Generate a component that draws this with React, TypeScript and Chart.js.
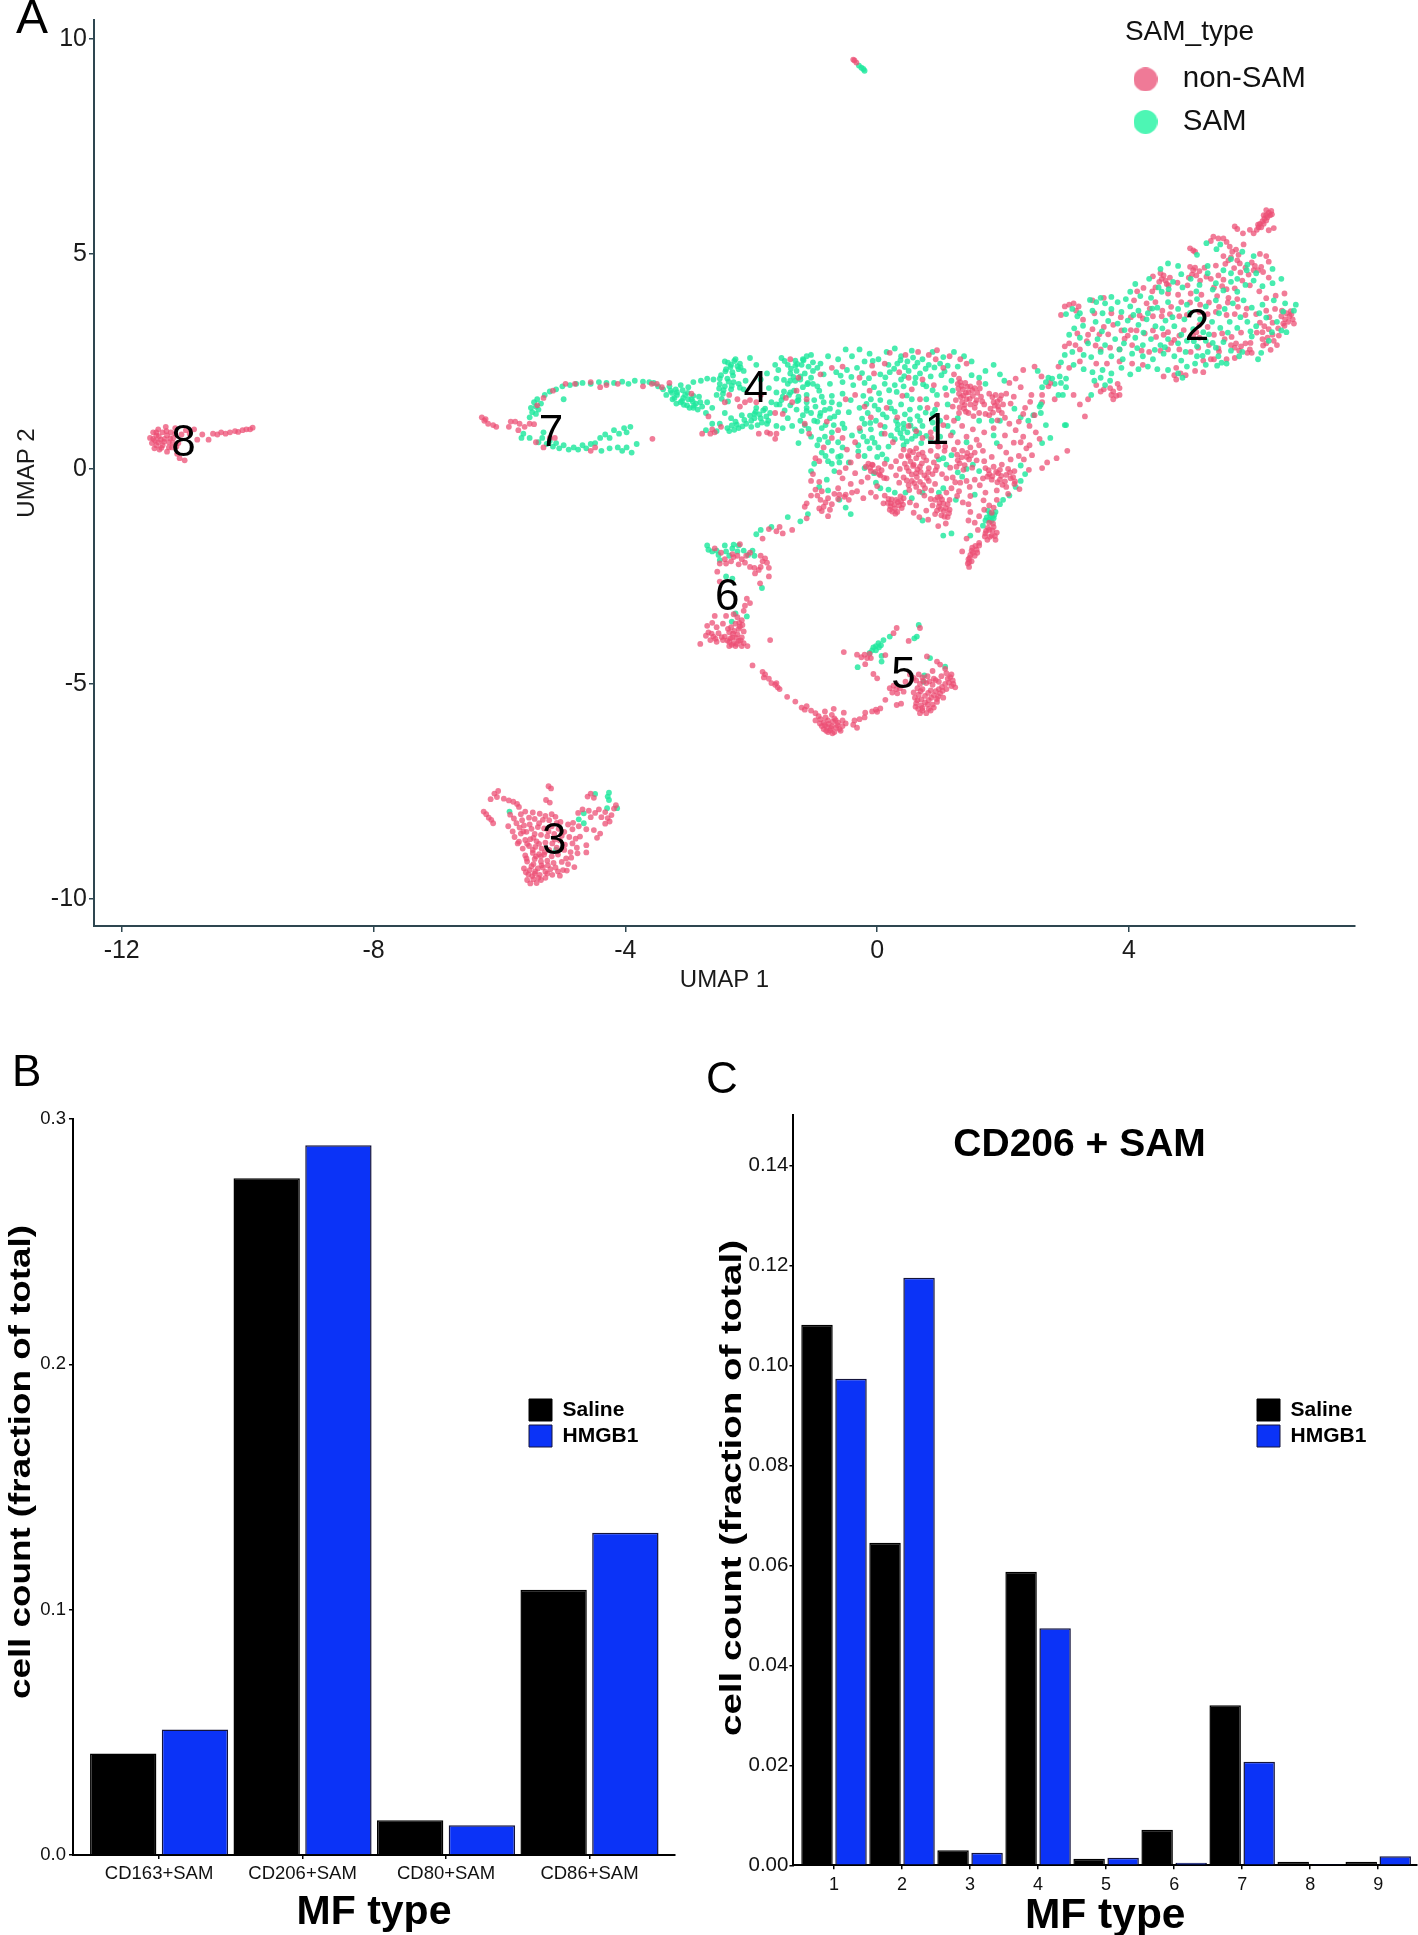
import React, { useEffect, useRef } from "react";
import { Chart, registerables } from "chart.js";
Chart.register(...registerables);

const FONT = "'Liberation Sans', Arial, sans-serif";

// Panel A: UMAP coordinates, as x,y pairs per cluster
const nonSamCluster1 = [
0.65,2.72,0.82,2.65,0.95,2.76,0.93,2.55,1.15,2.62,1.32,2.55,1.42,2.45,1.05,2.35,1.22,2.2,1.3,2.1,0.45,2.65,0.2,2.7,0.12,2.45,-0.08,2.4,-0.05,2.22,0.35,2.25,0.5,2.12,0.72,2.08,0.9,1.95,0.55,1.85,
1.32,2.02,1.4,2.0,1.28,1.98,1.48,1.92,1.36,1.85,1.55,1.88,1.62,2.0,1.45,1.78,1.3,1.75,1.52,1.7,1.42,1.62,1.58,1.6,1.35,1.55,1.48,1.5,1.65,1.68,1.25,1.6,1.38,1.4,1.55,1.42,1.7,1.5,1.2,1.45,1.3,1.3,1.45,1.3,1.62,1.3,1.72,1.28,1.78,1.75,1.88,1.72,1.95,1.62,1.85,1.55,2.0,1.5,1.92,1.45,1.8,1.4,1.78,1.25,1.98,1.3,2.05,1.75,
2.32,2.3,2.5,2.38,2.61,2.15,2.2,2.1,2.1,2.0,2.28,1.9,2.45,1.72,2.62,1.55,2.88,2.38,2.35,1.42,2.5,1.25,2.25,1.1,2.42,1.0,2.52,0.85,2.58,0.7,2.1,1.05,2.2,0.9,2.32,0.75,2.42,0.55,3.3,1.22,3.02,0.42,2.85,0.25,2.7,0.15,2.62,0.02,
1.1,1.2,1.22,1.12,1.05,1.02,1.35,1.0,1.52,0.92,1.7,0.85,1.85,0.95,1.42,0.75,1.58,0.68,1.28,0.62,1.62,0.55,1.48,0.5,1.35,0.42,1.22,0.45,1.55,0.38,1.68,0.42,1.42,0.28,1.28,0.2,1.58,0.2,1.7,0.18,1.82,0.28,1.95,0.52,2.05,0.38,2.12,0.22,1.98,0.1,2.25,0.3,
0.42,0.45,0.52,0.42,0.62,0.48,0.72,0.38,0.85,0.42,0.95,0.3,0.38,0.3,0.5,0.28,0.62,0.25,0.78,0.2,0.9,0.15,0.3,0.18,0.44,0.12,0.58,0.1,0.68,0.05,0.82,0.02,0.95,0.05,0.22,0.05,0.36,0.0,0.5,-0.05,0.62,-0.1,0.75,-0.15,0.88,-0.12,0.3,-0.15,0.42,-0.2,0.55,-0.28,0.68,-0.3,0.82,-0.28,0.92,-0.35,0.35,-0.32,0.5,-0.38,0.62,-0.42,0.76,-0.45,0.86,-0.5,0.12,0.12,0.02,0.02,-0.08,0.1,-0.18,0.05,-0.1,-0.05,0.05,-0.15,0.15,-0.22,
1.72,0.02,1.85,0.05,1.95,-0.02,2.08,0.0,2.18,-0.05,1.78,-0.12,1.92,-0.1,2.05,-0.14,1.68,-0.22,1.82,-0.25,1.95,-0.25,2.12,-0.22,2.18,-0.35,1.55,-0.25,1.42,-0.28,1.32,-0.32,1.2,-0.2,1.1,-0.22,2.05,-0.42,1.9,-0.5,2.08,-0.58,1.18,-0.45,1.3,-0.52,1.1,-0.55,
0.18,-0.7,0.22,-0.8,0.3,-0.72,0.35,-0.85,0.28,-0.92,0.38,-0.75,0.2,-0.95,0.32,-1.0,0.42,-0.68,0.1,-0.8,0.12,-0.62,-0.02,-0.65,-0.1,-0.55,0.0,-0.4,0.52,-0.78,0.62,-0.85,0.75,-0.62,0.85,-0.7,0.92,-0.72,1.0,-0.65,1.05,-0.8,1.12,-0.82,0.98,-0.88,1.06,-0.98,1.15,-0.95,1.02,-1.08,0.92,-1.05,0.88,-0.85,1.12,-1.12,1.15,-0.72,
1.45,-0.82,1.48,-1.0,1.45,-1.2,1.55,-1.25,1.62,-1.1,1.7,-0.95,1.78,-0.85,1.85,-0.9,1.82,-1.02,1.9,-0.72,1.78,-1.25,1.85,-1.35,1.78,-1.42,1.9,-1.48,1.82,-1.55,1.72,-1.5,1.88,-1.65,1.75,-1.65,1.6,-1.42,1.62,-1.72,1.5,-1.9,1.58,-1.88,1.48,-2.0,1.45,-2.1,1.44,-2.2,1.46,-2.28,1.35,-1.92,1.62,-1.78,1.52,-1.95,1.42,-1.62,
-0.3,0.3,-0.42,0.15,-0.5,0.02,-0.35,-0.1,-0.55,-0.22,-0.42,-0.35,-0.62,-0.45,-0.32,-0.52,-0.5,-0.6,-0.22,-0.68,-0.6,-0.08,-0.25,-0.3,-0.15,-0.2,-0.48,0.45,-0.55,0.72,-0.28,0.95,-0.1,1.2,-0.2,1.45,-0.35,1.72,-0.12,1.82,-0.28,2.12,0.05,1.02,0.12,0.82,0.25,0.62,0.15,1.42,0.32,1.2,0.5,1.0,0.72,0.72,0.62,0.88,0.85,0.85,0.95,0.62,1.08,0.52,0.8,1.42,0.95,1.5,1.1,1.72,0.68,1.62,0.4,1.7
];
const nonSamCluster1Clumps = [
0.23,-0.71,0.27,-0.83,0.33,-0.77,0.21,-0.87,0.39,-0.91,0.29,-1.04,0.24,-0.99,0.37,-0.64,0.41,-0.83,0.17,-0.79,
0.49,0.31,0.53,0.17,0.57,0.39,0.66,0.34,0.71,0.13,0.47,0.03,0.55,-0.13,0.63,-0.19,0.69,-0.07,0.73,-0.37,0.51,-0.49,0.59,-0.33,0.67,-0.53,0.47,-0.27,0.57,0.07,0.64,-0.01,0.74,0.28,0.81,-0.08,0.79,-0.21,
0.96,-0.66,1.03,-0.71,1.09,-0.91,0.99,-0.79,1.14,-1.03,1.01,-0.93,1.07,-1.11,0.95,-0.97,
1.27,0.33,1.34,0.27,1.39,0.09,1.46,0.22,1.51,0.03,1.37,-0.02,1.31,0.13,1.43,0.37,1.26,0.05,1.49,0.31,
1.34,1.93,1.41,1.77,1.33,1.67,1.47,1.63,1.39,1.49,1.56,1.53,1.59,1.77,1.43,1.91,1.29,1.87,1.37,1.71,1.51,1.83,1.63,1.87,1.67,1.57,1.31,1.43,1.41,1.33,1.53,1.23,1.83,1.67,1.91,1.57,1.97,1.71,1.87,1.47,1.93,1.37,1.84,1.31,
1.77,-0.03,1.83,-0.17,1.89,-0.07,1.97,-0.16,2.03,-0.29,2.11,-0.08,2.16,-0.19,1.91,-0.31,1.75,-0.18,2.19,-0.29,1.99,-0.37,
1.76,-1.37,1.83,-1.43,1.87,-1.56,1.79,-1.58,1.73,-1.44,1.84,-1.27,1.71,-1.57,
1.51,-1.83,1.55,-2.02,1.47,-2.07,1.5,-2.15,1.56,-1.79,1.59,-1.95,1.46,-2.17,
-0.11,0.03,-0.03,-0.07,0.03,-0.12,-0.14,0.12,0.07,-0.03,0.11,-0.21,-0.07,0.09,
0.86,0.73,0.97,0.52,1.17,0.78,1.07,0.42,0.93,-0.03,1.03,-0.12,1.16,0.03,1.24,-0.31,1.47,-0.42,1.63,-0.38,1.72,-0.55,1.48,-0.63,1.69,-0.73,1.36,-0.78,1.27,-0.63,0.78,-0.97,0.67,-1.12,0.58,-1.02,0.81,-1.18,0.97,-1.33,1.09,-1.27,
2.28,0.62,2.37,0.48,2.46,0.32,2.33,0.22,2.41,-0.02,2.17,0.61,2.03,0.78,2.26,-0.47,2.32,1.28,2.03,1.19,1.91,1.13,2.12,1.52,2.17,1.68,2.43,1.56
];
const samCluster1 = [
0.15,2.72,0.28,2.8,0.38,2.62,0.55,2.75,0.72,2.55,0.88,2.72,1.05,2.6,1.22,2.72,1.38,2.62,0.02,2.55,0.18,2.42,0.32,2.45,0.48,2.5,0.6,2.38,0.82,2.42,1.0,2.45,1.12,2.4,1.28,2.38,1.5,2.5,0.05,2.2,0.2,2.25,0.38,2.08,0.5,2.28,0.68,2.22,0.85,2.15,1.02,2.18,1.18,2.05,0.12,1.98,0.28,1.95,0.42,1.92,0.6,2.0,0.78,1.92,0.95,1.72,1.08,1.88,1.2,1.82,-0.2,2.5,-0.12,2.68,-0.28,2.78,-0.4,2.62,-0.5,2.78,-0.62,2.55,-0.32,2.35,-0.48,2.3,-0.65,2.25,-0.78,2.62,-0.9,2.45,-1.05,2.65,-1.18,2.55,-1.3,2.4,-0.85,2.2,-1.02,2.28,-1.22,2.15,-1.38,2.05,-1.1,2.0,-0.95,1.92,-0.75,1.98,-0.55,2.02,-0.38,1.95,-0.2,2.0,-0.05,1.9,
0.05,1.6,-0.1,1.62,-0.22,1.7,0.02,1.38,-0.15,1.3,-0.28,1.42,0.15,1.2,0.3,1.12,0.42,1.05,0.52,1.15,0.68,1.12,0.32,0.92,0.48,0.85,0.6,0.92,0.72,1.0,0.4,0.72,0.55,0.7,0.7,0.6,0.22,0.78,0.12,0.98,-0.02,1.12,-0.1,0.92,-0.2,1.05,-0.08,0.72,-0.22,0.75,-0.3,0.55,-0.12,0.48,0.02,0.5,0.18,0.52,0.0,0.28,-0.2,0.3,0.88,1.28,1.0,1.12,0.88,1.08,1.12,1.0,1.2,0.85,0.85,0.68,1.0,0.75,0.68,1.42,0.52,1.38,0.38,1.5,0.2,1.55,0.55,1.62,0.78,1.62,0.92,1.38,
1.5,2.18,1.62,2.12,1.72,2.28,1.85,2.42,1.95,2.2,2.02,2.05,1.72,1.98,1.12,1.5,1.28,1.18,1.62,1.12,1.82,1.12,1.95,1.12,2.18,1.4,2.28,1.2,2.4,1.12,2.55,2.28,2.72,2.12,2.9,2.15,2.82,1.98,3.0,2.1,2.62,1.9,2.58,1.45,2.48,1.25,2.98,1.02,2.68,1.02,2.62,0.6,2.75,0.72,
1.42,0.62,1.52,0.1,1.18,0.32,1.05,0.25,1.85,0.78,1.9,0.6,1.62,-0.05,1.42,0.0,1.28,-0.08,1.35,-0.18,2.28,0.08,2.35,-0.12,2.28,-0.28,2.2,-0.42,2.1,-0.62,2.0,-0.72,1.95,-0.82,1.88,-1.0,1.8,-1.08,1.72,-1.2,1.68,-1.32,1.78,-1.18,1.85,-1.15,1.55,-0.6,1.25,-0.72,1.05,-0.45,0.98,-0.55,0.55,-0.68,0.45,-0.55,0.28,-0.55,0.18,-0.48,-0.02,-0.32,-0.05,-0.1,0.05,-0.45,0.15,0.22,0.42,0.55,0.98,0.22,1.1,0.1,0.72,-0.55,0.72,-1.2,1.18,-1.5,1.05,-1.55,1.48,-1.55,
-0.2,0.02,-0.4,0.78,-0.55,0.5,-0.62,0.28,-0.72,0.12,-0.68,-0.05,-0.55,1.05,-0.68,1.22,-0.82,1.02,-0.45,1.32,-0.6,1.5,-0.75,1.4,-0.9,1.3,-0.42,1.6,-0.55,1.75,-0.72,1.7,-0.85,1.55,-1.0,1.6,-1.12,1.72,-1.25,1.6,-1.38,1.78,-1.5,1.68,-1.6,1.5,-1.12,1.35,-1.0,1.12,-1.15,1.02,-0.78,0.62,-0.92,0.68,-0.62,0.62,-0.82,0.3,-0.52,0.95,-1.05,-0.05,-0.8,-0.25,-0.92,-0.42,-0.78,-0.5,-0.6,-0.72,-0.5,-0.9,-0.42,-1.05
];
const samCluster1Clumps = [
0.37,2.53,0.44,2.37,0.57,2.59,0.64,2.47,0.77,2.33,0.91,2.36,1.07,2.27,0.27,2.33,0.13,2.13,0.43,2.16,0.61,2.12,0.73,1.97,0.88,1.83,0.31,1.79,0.47,1.71,0.19,1.83,0.03,1.76,-0.13,2.11,-0.24,2.23,-0.41,2.14,-0.58,2.17,-0.07,2.51,
0.33,1.03,0.42,0.94,0.53,1.01,0.61,0.77,0.37,0.83,0.47,0.64,0.28,0.69,0.64,1.23,0.77,1.31,0.44,1.27,0.28,1.33,0.09,1.27,0.22,1.41,0.67,0.83,0.78,0.77,0.93,0.93,
-0.17,1.51,-0.04,1.47,-0.24,1.17,-0.11,1.07,-0.27,0.88,-0.16,0.64,-0.04,0.61,0.07,0.82,-0.3,0.41,0.08,0.34,
1.79,-1.03,1.83,-1.11,1.76,-0.97,1.81,-1.21,1.86,-1.07,1.74,-1.13
];
const samCluster4 = [
-3.3,1.92,-3.2,1.85,-3.12,1.95,-3.0,1.9,-2.92,2.02,-2.8,2.05,-2.7,2.1,-2.6,2.08,-2.5,2.1,-3.18,1.72,-3.05,1.72,-3.25,1.62,-3.1,1.58,-3.0,1.62,-2.92,1.7,-2.88,1.52,-2.98,1.42,-2.85,1.38,-2.78,1.45,-2.72,1.3,-2.7,1.55,-2.62,1.42,
-2.42,2.5,-2.32,2.42,-2.25,2.55,-2.18,2.45,-2.4,2.32,-2.3,2.25,-2.2,2.32,-2.12,2.28,-2.48,2.18,-2.38,2.1,-2.28,2.02,-2.42,1.92,-2.5,1.98,-2.32,1.85,-2.45,1.75,-2.55,1.72,-2.2,1.98,-2.12,1.85,-2.02,2.58,-1.92,2.42,-1.75,2.22,-1.85,2.08,-1.72,1.88,-1.62,2.42,-1.6,2.1,
-2.42,1.3,-2.32,1.18,-2.5,1.05,-2.38,0.95,-2.25,1.1,-2.15,1.25,-2.08,1.05,-2.2,0.95,-2.0,1.12,-1.95,1.28,-1.85,1.18,-1.92,1.42,-1.78,1.4,-1.7,1.3,-1.68,1.55,-2.0,0.98,-1.9,1.02,-1.75,1.05,-1.6,1.0,-1.5,0.95,-1.42,1.18,-1.55,1.5,-1.4,1.72,-2.62,1.05,-2.72,0.9,-2.55,0.88,-2.35,0.88,-1.52,1.6,
-1.52,2.58,-1.42,2.42,-1.3,2.52,-1.2,2.42,-1.12,2.62,-1.02,2.48,-0.95,2.35,-1.38,2.22,-1.28,2.28,-1.15,2.22,-1.05,2.12,-1.3,2.05,-1.42,1.98,-1.18,1.9,-1.02,1.98,-0.92,1.82,-1.32,1.82,-1.48,1.8,-1.6,1.78,-1.25,1.68,-1.12,1.55,-0.98,1.45,-1.05,1.3,-0.88,1.68,-0.72,1.55,-0.62,1.32,-0.75,1.18,-1.28,1.38,-1.18,1.25,-0.95,1.1,-0.88,0.95,-0.72,0.85,-1.05,0.75,-1.2,0.88,-1.35,1.0,-1.25,0.6,-0.95,0.55,-0.88,0.38,-0.72,0.42,-0.58,0.3,-0.6,0.15,-0.45,0.15,-0.78,0.18,-1.0,0.12
];
const samCluster4Clumps = [
-2.37,2.47,-2.27,2.51,-2.33,2.37,-2.22,2.39,-2.41,2.27,-2.17,2.36,-2.29,2.17,-2.36,2.03,-2.44,1.83,-2.31,1.93,-2.18,1.89,-2.09,2.05,-2.51,1.87,-2.47,1.63,-2.37,1.57,
-1.93,1.33,-1.87,1.27,-1.81,1.36,-1.76,1.22,-1.83,1.08,-1.95,1.18,-2.02,1.24,-1.73,1.12,-2.11,1.14,-2.23,1.03,-2.14,0.99,-2.31,1.01,-2.27,0.91,
-1.47,2.51,-1.37,2.33,-1.27,2.44,-1.17,2.53,-1.09,2.38,-1.33,2.14,-1.22,2.08,-1.11,1.97,-1.48,2.07,-1.57,2.3,
-3.09,1.83,-3.01,1.77,-2.93,1.57,-3.07,1.49,-2.91,1.47,-2.81,1.55,-2.83,1.68,-3.19,1.52,-3.26,1.77,
-1.27,1.58,-1.38,1.48,-1.47,1.36,-1.12,1.42,-1.22,1.12,-0.83,1.37,-0.91,1.23,-1.09,0.93,-0.83,0.75,-0.69,1.02
];
const nonSamCluster4 = [
-3.5,1.98,-3.42,1.9,-3.3,2.0,-2.95,1.75,-2.68,1.22,-2.62,0.92,-2.78,0.82,-2.65,0.82,-2.58,0.85,-2.48,0.98,-2.42,1.55,-2.35,1.72,-2.22,1.62,-2.1,1.55,-2.18,1.45,-2.02,1.6,-1.92,1.55,-1.88,0.82,-1.75,0.85,-1.7,0.82,-1.6,0.82,-1.62,0.7,-1.85,1.72,-1.62,1.3,-1.5,1.28,-1.35,1.55,-1.28,1.82,-1.25,2.12,-1.38,2.55,-1.45,1.65,-1.15,1.05,-1.08,0.82,-0.85,0.5,-0.92,0.18,-0.98,0.25,-0.72,0.72,-0.62,0.9,-0.8,1.1,-1.12,1.62,-0.9,2.2,-0.72,2.35,-0.55,2.38,-0.5,1.62,-0.35,0.62
];
const nonSamCluster6 = [
-1.02,-0.12,-1.05,-0.28,-0.92,-0.3,-0.98,-0.48,-0.88,-0.52,-0.95,-0.62,-0.9,-0.72,-0.82,-0.78,-0.78,-0.68,-0.72,-0.82,-0.85,-0.88,-0.92,-0.92,-0.88,-0.98,-0.75,-0.95,-0.78,-1.1,-1.12,-0.8,-1.15,-0.88,-0.68,-0.58,-0.6,-0.6,-0.52,-0.65,-0.45,-0.72,-0.62,-0.7,-0.4,-0.55,-1.05,-0.62,-1.12,-1.15,-1.55,-1.35,-1.72,-1.4,-1.6,-1.45,-1.5,-1.5,-1.35,-1.42,-1.82,-1.62,
-2.58,-1.85,-2.48,-1.95,-2.42,-2.1,-2.3,-1.98,-2.4,-2.2,-2.32,-2.15,-2.28,-2.05,-2.2,-2.22,-2.15,-2.1,-2.1,-2.18,-2.08,-2.02,-2.02,-1.95,-2.22,-2.02,-2.5,-2.2,-2.18,-1.75,-2.02,-2.28,-1.95,-2.3,-1.85,-2.02,-1.78,-2.08,-1.82,-2.15,-1.75,-2.18,-1.85,-2.28,-1.72,-2.3,-1.88,-2.35,-1.94,-2.43,-1.72,-2.5,-1.86,-2.66,-2.54,-2.39,-2.5,-2.62,-2.07,-3.02,-2.02,-3.12,-2.1,-3.18,-2.12,-3.3,
-2.58,-3.42,-2.62,-3.58,-2.7,-3.65,-2.55,-3.68,-2.45,-3.6,-2.4,-3.42,-2.28,-3.38,-2.22,-3.45,-2.15,-3.52,-2.25,-3.6,-2.32,-3.68,-2.2,-3.72,-2.12,-3.78,-2.35,-3.8,-2.42,-3.9,-2.52,-3.82,-2.6,-3.9,-2.65,-3.98,-2.55,-4.02,-2.45,-3.98,-2.72,-3.88,-2.35,-4.02,-2.3,-3.92,-2.22,-3.85,-2.15,-3.92,-2.28,-4.05,-2.2,-4.0,-2.12,-4.05,-2.25,-4.12,-2.35,-4.12,-2.15,-4.12,-2.06,-4.12,-2.81,-4.07,-2.68,-3.8,
-2.29,-3.83,-2.33,-3.94,-2.24,-3.93,-2.18,-3.67,-2.27,-3.77,-2.38,-3.99,-2.47,-3.91,-2.57,-3.95,-2.63,-3.83,-2.19,-3.58,-2.23,-4.07,-2.31,-4.09,-2.17,-3.99,-2.37,-3.72,-2.14,-3.63
];
const samCluster6 = [
-2.7,-1.78,-2.68,-1.88,-2.62,-1.92,-2.55,-1.9,-2.52,-2.0,-2.5,-2.12,-2.42,-1.78,-2.4,-1.92,-2.35,-2.02,-2.3,-1.85,-2.28,-1.76,-2.22,-1.92,-2.2,-1.78,-2.12,-1.9,-2.05,-2.0,-1.98,-1.9,-1.95,-2.02,-1.92,-1.52,-1.85,-1.42,-1.68,-1.35,-1.83,-2.77,-2.31,-3.55,-2.07,-3.43,-2.25,-3.36,-2.4,-2.5,-2.3,-2.55,-1.42,-1.12,-1.1,-1.05,-1.22,-1.22
];
const nonSamCluster5 = [
-1.7,-3.98,-1.98,-4.57,-1.82,-4.72,-1.78,-4.78,-1.8,-4.85,-1.72,-4.88,-1.68,-4.98,-1.62,-5.02,-1.58,-5.08,-1.55,-5.12,-1.6,-4.98,-1.43,-5.3,-1.3,-5.41,-1.2,-5.55,-1.12,-5.52,-1.05,-5.62,-1.15,-5.6,-0.98,-5.68,-0.93,-5.75,-0.98,-5.85,
-0.9,-5.82,-0.85,-5.9,-0.78,-5.85,-0.7,-5.88,-0.62,-5.9,-0.55,-5.85,-0.88,-5.98,-0.8,-6.0,-0.72,-5.98,-0.65,-6.02,-0.55,-5.98,-0.85,-6.05,-0.75,-6.08,-0.68,-6.12,-0.6,-6.05,-0.78,-6.12,-0.82,-5.78,-0.72,-5.72,-0.68,-5.8,-0.83,-5.64,-0.69,-5.58,-0.53,-5.67,-0.5,-5.92,-0.38,-5.95,-0.36,-5.85,-0.28,-5.82,-0.32,-6.02,-0.2,-5.78,-0.19,-5.67,-0.08,-5.64,-0.02,-5.6,0.05,-5.57,0.0,-5.65,0.13,-5.37,
-0.77,-5.93,-0.83,-5.96,-0.73,-6.03,-0.63,-5.96,-0.91,-5.92,-0.58,-6.09,-0.71,-6.15,-0.81,-6.09,-0.66,-5.84,
0.31,-3.7,0.26,-3.82,-0.53,-4.26,-0.32,-4.32,-0.25,-4.38,-0.2,-4.32,-0.12,-4.3,-0.16,-4.4,-0.1,-4.4,0.13,-4.33,-0.19,-4.54,-0.06,-4.77,0.0,-4.87,0.68,-3.7,0.5,-4.0,
0.2,-5.1,0.26,-5.04,0.3,-5.12,0.36,-5.1,0.24,-5.2,0.32,-5.22,0.42,-5.18,0.31,-5.49,0.38,-5.46,0.45,-4.95,0.52,-4.78,0.58,-4.86,0.79,-4.36,0.95,-4.48,1.0,-4.55,0.88,-4.7,1.08,-4.65,1.1,-4.75,1.18,-4.78,1.2,-4.92,1.12,-4.88,1.02,-4.82,0.9,-4.88,0.8,-4.82,0.72,-4.85,0.66,-4.78,0.62,-4.92,0.68,-5.0,0.78,-4.98,0.88,-5.02,0.98,-4.95,1.08,-5.0,1.18,-5.05,1.24,-5.08,1.1,-5.12,0.98,-5.12,0.85,-5.15,0.72,-5.12,0.64,-5.1,0.58,-5.2,0.66,-5.25,0.76,-5.28,0.9,-5.26,1.0,-5.22,1.05,-5.32,0.95,-5.35,0.82,-5.38,0.7,-5.36,0.6,-5.32,0.62,-5.45,0.7,-5.5,0.8,-5.48,0.88,-5.48,0.95,-5.42,0.65,-5.58,0.72,-5.62,0.82,-5.58,0.9,-5.55,0.78,-5.68,0.68,-5.68,
0.73,-4.93,0.83,-4.94,0.93,-4.91,1.03,-5.07,1.14,-4.97,0.69,-5.17,0.81,-5.21,0.93,-5.17,1.04,-5.16,0.64,-5.38,0.76,-5.43,0.86,-5.32,0.97,-5.29,0.72,-5.56,0.85,-5.62,0.61,-5.53,1.16,-4.84,1.21,-5.0
];
const samCluster5 = [
0.2,-3.9,0.1,-3.98,0.02,-4.05,-0.02,-4.12,0.03,-4.15,-0.06,-4.15,-0.02,-4.22,0.06,-4.1,-0.08,-4.22,-0.12,-4.28,-0.31,-4.61,0.07,-4.35,0.07,-4.48,0.66,-3.63,0.63,-3.9,0.59,-3.94,0.84,-4.4,1.08,-4.6,0.75,-4.8,0.74,-4.95
];
const nonSamCluster3 = [
-6.25,-7.97,-6.21,-8.03,-6.17,-8.11,-6.13,-8.16,-6.1,-8.24,-6.14,-7.68,-6.08,-7.55,-6.04,-7.63,-6.02,-7.49,-5.93,-7.67,-5.85,-7.71,-5.78,-7.74,-5.72,-7.79,-5.69,-7.86,-5.22,-7.38,-5.18,-7.43,-5.26,-7.7,-5.2,-7.76,
-5.83,-8.04,-5.77,-8.13,-5.66,-8.03,-5.59,-7.97,-5.47,-7.99,-5.36,-8.02,-5.27,-8.07,-5.17,-8.03,-5.86,-8.31,-5.73,-8.24,-5.64,-8.17,-5.53,-8.11,-5.44,-8.14,-5.31,-8.16,-5.21,-8.17,-5.11,-8.09,-5.03,-8.21,-4.91,-8.27,-4.83,-8.23,-4.74,-8.31,
-5.79,-8.43,-5.68,-8.34,-5.61,-8.29,-5.52,-8.27,-5.39,-8.33,-5.29,-8.36,-5.17,-8.31,-5.06,-8.37,-4.97,-8.44,-4.84,-8.38,-5.76,-8.56,-5.66,-8.48,-5.57,-8.44,-5.44,-8.49,-5.34,-8.51,-5.24,-8.54,-5.13,-8.49,-5.01,-8.53,-4.89,-8.56,-4.79,-8.6,
-5.69,-8.67,-5.59,-8.63,-5.51,-8.61,-5.41,-8.66,-5.27,-8.69,-5.16,-8.71,-5.04,-8.64,-4.96,-8.74,-4.84,-8.71,-4.77,-8.81,-5.63,-8.83,-5.53,-8.77,-5.43,-8.79,-5.33,-8.83,-5.21,-8.86,-5.09,-8.81,-4.97,-8.86,-4.87,-8.91,-4.76,-8.94,
-5.59,-8.99,-5.47,-8.93,-5.37,-8.96,-5.29,-8.97,-5.17,-9.01,-5.07,-8.97,-4.94,-9.06,-4.86,-9.04,-5.56,-9.13,-5.44,-9.07,-5.34,-9.13,-5.24,-9.11,-5.14,-9.16,-5.01,-9.14,-4.91,-9.19,-4.81,-9.26,-5.61,-9.29,-5.49,-9.24,-5.39,-9.29,-5.31,-9.27,-5.19,-9.31,-5.11,-9.27,-4.99,-9.33,-4.93,-9.34,
-5.54,-9.43,-5.44,-9.41,-5.36,-9.44,-5.24,-9.41,-5.16,-9.44,-5.04,-9.46,-5.56,-9.56,-5.46,-9.54,-5.34,-9.56,-5.27,-9.51,-5.51,-9.64,-5.41,-9.63,
-5.62,-8.43,-5.49,-8.37,-5.46,-8.58,-5.37,-8.24,-5.71,-8.71,-5.56,-8.72,-5.37,-8.72,-5.47,-8.86,-5.28,-8.91,-5.57,-9.06,-5.42,-9.01,-5.33,-9.22,-5.52,-9.33,-5.43,-9.36,-5.27,-9.37,-5.46,-9.19,-5.12,-8.62,-5.22,-8.43,-5.09,-8.23,-5.34,-9.01,-5.48,-9.47,-5.58,-9.38,-5.38,-9.51,-5.23,-9.22,-5.07,-9.36,
-4.6,-7.62,-4.55,-7.55,-4.5,-7.65,-4.58,-7.95,-4.55,-8.1,-4.48,-8.0,-4.42,-7.92,-4.38,-8.1,-4.32,-7.98,-4.28,-8.12,-4.22,-8.05,-4.32,-8.25,-4.25,-8.2,-4.18,-7.9,-4.15,-7.82,-4.62,-8.38,-4.5,-8.4,-4.45,-8.58,-4.4,-8.48,-4.75,-8.0,-4.68,-7.92,-4.72,-8.55,-4.62,-8.75,-4.62,-8.92
];
const samCluster3 = [
-4.26,-7.53,-4.28,-7.62,-4.26,-7.7,-4.48,-7.56,-4.66,-8.01,-4.66,-8.24,-4.74,-8.15,-5.84,-7.97,-4.13,-7.89,-4.29,-7.89,-5.1,-8.86
];
const samCluster2 = [
5.39,5.11,5.08,4.98,5.23,5.25,5.45,5.22,5.62,4.88,5.88,4.75,5.98,4.95,5.8,5.05,6.02,4.55,6.28,4.65,5.72,4.42,5.5,4.62,5.25,4.72,4.78,4.72,4.62,4.78,4.5,4.65,4.32,4.42,4.1,4.3,4.02,4.12,3.95,3.95,4.18,4.02,4.35,3.98,4.52,4.12,4.7,4.35,4.85,4.22,4.98,4.42,5.12,4.28,5.25,4.55,5.38,4.32,5.5,4.15,5.62,4.35,5.72,4.12,5.85,4.28,5.98,4.38,6.12,4.25,6.28,4.32,6.42,4.42,
3.38,3.93,3.48,3.88,3.55,3.98,3.62,3.85,3.72,3.72,3.82,3.88,3.72,4.0,3.58,3.62,3.42,3.68,3.22,3.62,3.1,3.72,3.0,3.6,3.18,3.55,3.88,3.65,4.02,3.78,4.15,3.68,4.3,3.62,4.45,3.75,4.62,3.88,4.78,3.72,4.92,3.82,5.08,3.95,5.22,3.78,5.38,3.92,5.52,3.72,5.65,3.85,5.82,3.92,5.95,3.75,6.12,3.82,6.3,3.92,6.48,3.85,6.62,3.68,6.65,3.82,
3.82,3.38,3.98,3.45,4.15,3.35,4.28,3.48,4.42,3.32,4.58,3.45,4.72,3.32,4.88,3.48,5.02,3.25,5.18,3.18,5.32,3.42,5.45,3.28,5.6,3.42,5.72,3.28,5.88,3.42,6.02,3.32,6.18,3.52,6.35,3.42,6.42,3.22,6.5,3.18,5.95,3.08,6.22,2.98,6.1,2.7,6.05,2.55,5.8,2.72,
3.05,3.12,3.22,3.05,3.35,2.92,3.5,3.02,3.62,2.88,3.78,3.02,3.92,2.92,4.1,3.05,4.22,2.88,4.35,3.02,4.5,2.88,4.62,3.02,4.78,2.92,4.92,2.98,5.08,2.85,5.22,2.98,5.38,2.82,5.5,2.95,5.62,2.75,5.75,2.62,5.42,2.62,5.25,2.72,5.08,2.62,4.9,2.72,4.72,2.62,4.55,2.68,4.38,2.55,4.22,2.62,4.05,2.68,3.9,2.55,3.72,2.62,3.55,2.72,3.4,2.6,3.28,2.65,3.1,2.72,2.98,2.65,2.92,2.48,3.12,2.42,
3.28,2.32,3.42,2.25,3.58,2.3,3.72,2.22,3.88,2.35,4.02,2.2,4.15,2.32,4.3,2.38,4.45,2.32,4.62,2.3,4.78,2.22,4.92,2.38,5.05,2.45,5.22,2.42,5.4,2.4,5.55,2.45,4.85,2.12,3.55,2.12,3.45,2.05,3.62,1.95,3.7,2.05,2.68,2.02,2.78,2.1,2.92,2.0,3.0,1.9,2.95,1.72,2.88,1.72,2.6,1.5,2.6,1.3,3.0,1.02,3.4,1.72,
3.67,3.44,3.93,3.23,4.07,3.58,4.23,3.17,4.37,3.73,4.53,3.27,4.69,3.53,4.83,3.12,4.97,3.63,5.13,3.48,5.27,3.13,5.43,3.62,5.57,3.17,5.77,3.53,5.93,3.2,6.07,3.62,6.27,3.18,6.45,3.66,3.47,3.42,3.27,3.33,3.13,3.27,3.57,3.2,3.85,2.78,4.13,2.81,4.41,2.77,4.57,2.83,4.83,2.52,5.03,2.97,5.17,2.63,5.33,2.93,5.47,2.47,4.47,4.22,4.63,4.18,4.83,4.53,5.07,4.13,5.33,4.17,5.62,4.55,5.87,4.62
];
const nonSamCluster2 = [
6.03,5.56,6.06,5.62,6.08,5.7,6.1,5.62,6.12,5.76,6.14,5.7,6.15,5.82,6.18,5.78,6.18,5.9,6.2,5.85,6.22,5.96,6.24,5.9,6.26,6.0,6.14,5.9,6.18,6.02,6.05,5.68,6.27,5.92,6.22,5.55,6.3,5.6,
5.68,5.64,5.72,5.58,5.81,5.48,5.92,5.56,5.98,5.48,5.34,5.4,5.3,5.3,5.42,5.36,5.5,5.36,5.55,5.28,4.97,5.13,5.02,5.08,5.05,5.05,
5.6,5.17,5.64,5.05,5.7,5.1,5.74,4.98,5.62,4.92,5.58,4.85,5.72,4.85,5.76,4.78,5.5,4.95,5.82,5.22,5.85,4.68,5.95,4.8,6.0,4.72,6.05,4.62,5.98,4.62,6.1,4.7,6.13,4.58,6.18,4.95,6.08,5.0,6.22,4.82,
4.5,4.55,4.55,4.5,4.52,4.42,4.58,4.38,4.48,4.35,4.6,4.3,4.42,4.22,4.65,4.45,4.38,4.48,4.97,4.7,5.02,4.62,5.05,4.68,5.0,4.52,5.07,4.5,4.95,4.45,5.12,4.6,5.2,4.68,5.3,4.42,5.42,4.5,5.5,4.4,5.35,4.22,5.48,4.25,5.55,4.18,5.68,4.2,5.8,4.38,5.9,4.52,6.22,4.45,
6.5,3.62,6.55,3.55,6.58,3.6,6.48,3.48,6.53,3.42,6.6,3.48,6.45,3.38,6.42,3.55,6.62,3.38,6.08,3.4,6.15,3.32,6.22,3.25,6.12,3.18,6.28,3.12,6.2,3.05,6.3,2.98,6.12,3.02,6.18,2.92,6.35,2.88,6.28,3.4,6.38,3.1,5.7,2.92,5.78,2.85,5.85,2.92,5.92,2.78,5.75,2.75,5.88,2.7,5.68,2.82,5.62,2.88,5.95,2.7,5.52,3.02,5.48,3.15,
5.35,3.12,5.12,3.05,5.02,3.1,5.25,3.3,5.12,3.35,4.8,3.1,4.72,3.0,4.62,3.18,4.55,3.12,4.38,3.22,4.25,3.15,4.12,3.22,3.98,3.1,3.88,3.22,4.92,3.58,4.8,3.55,4.65,3.6,4.52,3.55,4.38,3.55,4.22,3.5,5.12,3.65,5.25,3.6,5.38,3.65,5.55,3.58,5.68,3.6,5.85,3.58,6.02,3.6,6.18,3.68,6.32,3.72,5.72,3.95,5.58,3.98,5.4,4.02,5.15,4.05,4.98,4.08,4.78,4.05,4.62,4.08,4.42,3.88,4.28,3.85,4.08,3.92,
2.98,3.78,3.05,3.82,3.12,3.85,3.2,3.78,3.16,3.68,2.92,3.58,3.6,3.98,3.72,3.62,3.42,3.92,3.45,3.62,3.75,3.35,3.6,3.3,3.42,3.25,3.18,3.15,3.35,3.12,3.05,2.92,3.15,2.88,3.22,2.78,2.98,2.85,3.55,2.78,3.7,2.82,3.85,2.78,4.05,2.88,4.2,2.75,4.32,2.72,4.5,2.75,4.62,2.78,4.8,2.78,4.98,2.72,5.1,2.82,5.18,2.52,5.3,2.55,5.42,2.8,5.55,2.55,5.68,2.58,
4.22,2.42,4.05,2.45,3.85,2.5,3.65,2.45,3.48,2.45,3.22,2.5,3.05,2.35,4.75,2.35,4.72,2.18,4.82,2.22,4.75,2.08,4.9,2.18,5.05,2.28,5.18,2.25,5.35,2.55,4.55,2.15,3.7,1.88,3.75,1.8,3.85,1.88,3.72,1.72,3.8,1.7,3.6,1.85,3.55,1.8,3.75,1.62,3.85,1.72,3.82,1.98,3.48,1.95,3.35,1.62,3.12,1.72,3.22,1.5,2.72,1.92,2.82,1.62,2.62,1.72,2.75,2.0,
4.43,3.07,4.67,2.93,4.87,3.23,5.07,3.18,5.27,2.88,5.43,2.73,5.63,3.07,5.78,3.17,5.93,2.93,6.03,3.17,6.13,2.87,6.25,2.77,6.23,3.53,6.37,3.27,6.47,3.33,6.57,3.67,6.43,3.68,5.87,3.73,5.73,3.77,5.57,3.87,5.43,3.77,5.27,3.87,5.13,3.82,4.97,3.87,4.83,3.88,4.67,3.77,4.53,3.68,4.33,3.73,4.17,3.57,4.03,3.53,3.87,3.53,
5.77,4.57,5.67,4.67,5.53,4.77,5.38,4.73,5.23,4.47,5.13,4.38,4.93,4.27,4.77,4.33,4.63,4.27,4.37,4.13,4.23,4.21,4.13,4.13,5.92,4.27,6.07,4.13,6.18,3.97,6.33,4.03,6.47,4.08,4.03,3.23,3.93,3.03,3.67,3.13,3.53,3.13,3.33,2.97,3.47,2.87,3.27,3.47
];
const samCluster7 = [
-5.52,1.2,-5.48,1.32,-5.42,1.28,-5.5,1.42,-5.42,1.45,-5.45,1.55,-5.38,1.38,-5.4,1.62,-5.34,1.52,-5.28,1.72,-5.2,1.8,-5.1,1.85,-5.0,1.92,-4.88,1.95,-4.78,1.98,-4.68,2.0,-4.55,1.98,-4.42,2.02,-4.3,2.0,-4.18,2.0,-4.05,2.03,-3.95,1.98,-3.85,2.05,-3.72,2.03,-3.62,2.02,-3.55,2.0,-3.48,1.92,-3.4,1.85,-3.35,1.72,-3.28,1.82,-3.22,1.65,-3.18,1.78,-3.12,1.55,-3.08,1.65,-3.02,1.48,-2.95,1.62,-2.92,1.42,-4.98,1.62,
-5.65,0.72,-5.62,0.82,-5.52,0.72,-5.38,0.62,-5.32,0.72,-5.3,0.85,-5.25,0.58,-5.2,0.65,-5.15,0.52,-5.1,0.6,-5.05,0.48,-4.98,0.55,-4.9,0.45,-4.82,0.5,-4.75,0.45,-4.68,0.55,-4.62,0.48,-4.55,0.58,-4.48,0.6,-4.4,0.72,-4.32,0.8,-4.25,0.72,-4.18,0.9,-4.1,0.82,-4.02,0.95,-3.98,0.85,-3.92,0.98,-4.38,0.42,-4.25,0.48,-4.12,0.5,-4.05,0.42,-3.98,0.5,-3.82,0.58,-3.9,0.38
];
const nonSamCluster7 = [
-6.28,1.2,-6.24,1.12,-6.18,1.05,-6.1,1.02,-6.05,0.98,-5.85,0.98,-5.82,1.1,-5.75,1.1,-5.68,1.05,-5.7,0.9,-5.6,0.98,-5.52,1.05,-5.45,1.04,-5.4,1.48,-5.3,1.65,-5.15,1.82,-4.8,1.98,-4.55,2.02,-4.4,1.9,-4.12,1.98,-3.72,1.92,-3.58,1.98,-5.42,0.62,-5.3,0.5,-5.2,0.72,-5.12,0.72,-4.55,0.42,-4.48,0.5,-3.57,0.7,-4.95,1.98,-6.22,1.16,-4.3,1.95
];
const nonSamCluster8 = [
-11.55,0.72,-11.52,0.6,-11.5,0.85,-11.48,0.48,-11.45,0.78,-11.42,0.92,-11.42,0.62,-11.4,0.45,-11.35,0.85,-11.35,0.55,-11.32,0.7,-11.3,0.98,-11.28,0.4,-11.25,0.62,-11.22,0.85,-11.2,0.5,-11.18,0.72,-11.15,0.95,-11.12,0.35,-11.1,0.6,-11.08,0.25,-11.05,0.8,-10.98,0.9,-10.92,0.82,-10.85,0.92,-10.8,0.68,-11.0,0.2,-10.72,0.8,-10.62,0.68,-10.55,0.82,-10.48,0.8,-10.42,0.85,-10.35,0.82,-10.28,0.85,-10.2,0.88,-10.15,0.86,-10.08,0.9,-10.02,0.92,-9.96,0.92,-9.92,0.96,
-11.5,0.7,-11.45,0.55,-11.38,0.68,-11.28,0.78,-11.25,0.5,-11.15,0.82,-11.45,0.85,-11.33,0.63,-11.41,0.76,-11.37,0.49,-11.23,0.71,-11.19,0.61,-11.29,0.88,-11.47,0.66,-11.13,0.52
];
const nonSamTopIsland = [-0.36, 9.5, -0.33, 9.45, -0.38, 9.52];
const samTopIsland = [-0.29, 9.38, -0.25, 9.33, -0.2, 9.26, -0.22, 9.3];

const clusterNames = ["1", "2", "3", "4", "5", "6", "7", "8"];
const clusterNameX = [0.95, 5.08, -5.13, -1.93, 0.42, -2.38, -5.18, -11.02];
const clusterNameY = [0.95, 3.36, -8.6, 1.92, -4.73, -2.93, 0.89, 0.66];

const umapXTicks = [-12, -8, -4, 0, 4];
const umapYTicks = [-10, -5, 0, 5, 10];
const samTypes = ["non-SAM", "SAM"];

// Panel B
const macrophageTypes = ["CD163+SAM", "CD206+SAM", "CD80+SAM", "CD86+SAM"];
const salineByType = [0.0414, 0.2758, 0.0142, 0.1081];
const hmgb1ByType = [0.0512, 0.2893, 0.0121, 0.1314];
const fractionTicksB = [0, 0.1, 0.2, 0.3];

// Panel C
const mfClusters = ["1", "2", "3", "4", "5", "6", "7", "8", "9"];
const salineByCluster = [0.1081, 0.0645, 0.003, 0.0587, 0.0013, 0.0071, 0.032, 0.0007, 0.0007];
const hmgb1ByCluster = [0.0973, 0.1175, 0.0025, 0.0474, 0.0015, 0.0005, 0.0207, 0.0001, 0.0018];
const fractionTicksC = [0, 0.02, 0.04, 0.06, 0.08, 0.1, 0.12, 0.14];

const treatments = ["Saline", "HMGB1"];
const Y_TITLE = "cell count (fraction of total)";

const PINK = "rgba(236,78,116,0.74)";
const GREEN = "rgba(32,232,158,0.82)";
const LEGEND_PINK = "#EF7A97";
const LEGEND_GREEN = "#4DF6B4";
const BLUE = "#0B33F7";

const toPoints = (...lists: number[][]) => {
  const out: { x: number; y: number }[] = [];
  lists.forEach((flat) => {
    for (let i = 0; i + 1 < flat.length; i += 2) out.push({ x: flat[i], y: flat[i + 1] });
  });
  return out;
};

function discImage(color: string, d: number) {
  const c = document.createElement("canvas");
  c.width = d;
  c.height = d;
  const g = c.getContext("2d")!;
  g.fillStyle = color;
  g.beginPath();
  g.arc(d / 2, d / 2, d / 2, 0, Math.PI * 2);
  g.fill();
  return c;
}

// Moves the built-in legend to a fixed spot on the canvas
const legendPlacer = {
  id: "legendPlacer",
  afterLayout(chart: any, _a: any, opts: any) {
    const l = chart.legend;
    if (!l || opts.x === undefined) return;
    l.left = opts.x;
    l.top = opts.y;
    l.width = opts.w;
    l.right = opts.x + opts.w + 150;
    l.bottom = opts.y + 200;
    l.adjustHitBoxes();
  },
};

// Free text: panel letters, cluster numbers, stretched axis titles
const freeText = {
  id: "freeText",
  afterDatasetsDraw(chart: any, _a: any, opts: any) {
    const ctx = chart.ctx;
    (opts.items || []).forEach((t: any) => {
      ctx.save();
      ctx.font = t.font;
      ctx.fillStyle = "#000";
      ctx.textAlign = t.align || "left";
      ctx.textBaseline = "alphabetic";
      const x = t.dataX !== undefined ? chart.scales.x.getPixelForValue(t.dataX) : t.x;
      const y = t.dataY !== undefined ? chart.scales.y.getPixelForValue(t.dataY) : t.y;
      ctx.translate(x, y);
      if (t.rotate) ctx.rotate(t.rotate);
      if (t.span) ctx.scale(t.span / ctx.measureText(t.text).width, 1);
      ctx.fillText(t.text, 0, 0);
      ctx.restore();
    });
  },
};

function fixArea(h: number, left: number, bottom: number) {
  return {
    y: (s: any) => { s.width = left; },
    x: (s: any) => { s.height = h - bottom; },
  };
}

function umapConfig(): any {
  const fit = fixArea(1010, 94, 926);
  const discs = [discImage(LEGEND_PINK, 24), discImage(LEGEND_GREEN, 24)];
  const dots = (label: string, data: { x: number; y: number }[], backgroundColor: string) => ({
    label,
    data,
    backgroundColor,
    pointRadius: 2.9,
    borderWidth: 0,
  });
  return {
    type: "scatter",
    data: {
      datasets: [
        dots(samTypes[1], toPoints(samCluster2), GREEN),
        dots(samTypes[0], toPoints(nonSamCluster1, nonSamCluster1Clumps, nonSamCluster4, nonSamCluster6, nonSamCluster5, nonSamCluster3, nonSamCluster2, nonSamCluster7, nonSamCluster8, nonSamTopIsland), PINK),
        dots(samTypes[1], toPoints(samCluster1, samCluster1Clumps, samCluster4, samCluster4Clumps, samCluster6, samCluster5, samCluster3, samCluster7, samTopIsland), GREEN),
      ],
    },
    options: {
      animation: false,
      responsive: false,
      events: [],
      layout: { padding: { top: 20, right: 63, left: 0, bottom: 0 } },
      scales: {
        x: {
          type: "linear",
          min: -12.44,
          max: 7.59,
          afterFit: fit.x,
          afterBuildTicks: (a: any) => { a.ticks = umapXTicks.map((value) => ({ value })); },
          grid: { display: true, drawOnChartArea: false, drawTicks: true, tickLength: 6, color: "#2E4650", lineWidth: 1.5 },
          border: { display: true, color: "#2E4650", width: 2 },
          ticks: { color: "#1a1a1a", font: { family: FONT, size: 25 }, padding: 4, maxRotation: 0 },
          title: { display: true, text: "UMAP 1", color: "#1a1a1a", font: { family: FONT, size: 24 }, padding: { top: 0, bottom: 15 } },
        },
        y: {
          type: "linear",
          min: -10.63,
          max: 10.44,
          afterFit: fit.y,
          afterBuildTicks: (a: any) => { a.ticks = umapYTicks.map((value) => ({ value })); },
          grid: { display: true, drawOnChartArea: false, drawTicks: true, tickLength: 5, color: "#2E4650", lineWidth: 1.5 },
          border: { display: true, color: "#2E4650", width: 2 },
          ticks: { color: "#1a1a1a", font: { family: FONT, size: 25 }, padding: 2 },
          title: { display: true, text: "UMAP 2", color: "#1a1a1a", font: { family: FONT, size: 24 }, padding: { top: 13, bottom: 0 } },
        },
      },
      plugins: {
        tooltip: { enabled: false },
        legend: {
          display: true,
          position: "chartArea",
          align: "start",
          title: { display: true, text: "SAM_type", position: "center", color: "#111", font: { family: FONT, size: 28 }, padding: { top: 8.5, bottom: 0, left: 0, right: 0 } },
          labels: {
            usePointStyle: true,
            pointStyleWidth: 45,
            color: "#111",
            font: { family: FONT, size: 29.5 },
            boxHeight: 16,
            padding: 13,
            generateLabels: () =>
              samTypes.map((text, i) => ({
                text,
                fillStyle: i === 0 ? LEGEND_PINK : LEGEND_GREEN,
                strokeStyle: "transparent",
                lineWidth: 0,
                pointStyle: discs[i],
                datasetIndex: i,
                hidden: false,
              })),
          },
        },
        legendPlacer: { x: 1110, y: 9.5, w: 159 },
        freeText: {
          items: [
            { text: "A", x: 16, y: 33, font: `48px ${FONT}` },
            ...clusterNames.map((text, i) => ({ text, dataX: clusterNameX[i], dataY: clusterNameY[i] - 0.36, align: "center", font: `44px ${FONT}` })),
          ],
        },
      },
    },
    plugins: [legendPlacer, freeText],
  };
}

function barConfig(p: {
  h: number; left: number; bottom: number; top: number; right: number;
  cats: string[]; saline: number[]; hmgb1: number[]; xMin: number; xMax: number; yMax: number;
  yTicks: number[]; digits: number; tickSizeX: number; tickSizeY: number; xPad: number; yPad: number;
  legend: { x: number; y: number; w: number }; extra: any[]; titleBottom: number; titleSize: number;
}): any {
  const fit = fixArea(p.h, p.left, p.bottom);
  const seq = p.cats.map((_, i) => i + 1);
  const bar = (label: string, vals: number[], color: string, border: string) => ({
    label,
    data: vals.map((y, i) => ({ x: seq[i], y })),
    backgroundColor: color,
    borderColor: border,
    borderWidth: 1.5,
    categoryPercentage: 1,
    barPercentage: 0.925,
  });
  return {
    type: "bar",
    data: {
      datasets: [bar(treatments[0], p.saline, "#000", "#000"), bar(treatments[1], p.hmgb1, BLUE, "#14143c")],
    },
    options: {
      animation: false,
      responsive: false,
      events: [],
      layout: { padding: { top: p.top, right: p.right, left: 0, bottom: 0 } },
      scales: {
        x: {
          type: "linear",
          offset: false,
          min: p.xMin,
          max: p.xMax,
          afterFit: fit.x,
          afterBuildTicks: (a: any) => { a.ticks = seq.map((value) => ({ value })); },
          grid: { display: true, offset: false, drawOnChartArea: false, drawTicks: true, tickLength: 4, color: "#000", lineWidth: 1.5 },
          border: { display: true, color: "#000", width: 2 },
          ticks: {
            color: "#111",
            font: { family: FONT, size: p.tickSizeX },
            padding: p.xPad,
            maxRotation: 0,
            autoSkip: false,
            callback: (v: number) => p.cats[v - 1],
          },
          title: { display: true, text: "MF type", color: "#000", font: { family: FONT, size: p.titleSize, weight: "bold", lineHeight: 1 }, padding: { top: 0, bottom: p.titleBottom } },
        },
        y: {
          type: "linear",
          min: 0,
          max: p.yMax,
          afterFit: fit.y,
          afterBuildTicks: (a: any) => { a.ticks = p.yTicks.map((value) => ({ value })); },
          grid: { display: true, drawOnChartArea: false, drawTicks: true, tickLength: 4, color: "#000", lineWidth: 1.5 },
          border: { display: true, color: "#000", width: 2 },
          ticks: {
            color: "#111",
            font: { family: FONT, size: p.tickSizeY },
            padding: p.yPad,
            callback: (v: number) => v.toFixed(p.digits),
          },
        },
      },
      plugins: {
        tooltip: { enabled: false },
        legend: {
          display: true,
          position: "chartArea",
          align: "start",
          labels: {
            color: "#111",
            font: { family: FONT, size: 21, weight: "bold" },
            boxWidth: 23,
            boxHeight: 22,
            padding: 4,
            generateLabels: () =>
              treatments.map((text, i) => ({
                text,
                fillStyle: i === 0 ? "#000" : BLUE,
                strokeStyle: i === 0 ? "#000" : "#14143c",
                lineWidth: 1,
                datasetIndex: i,
                hidden: false,
              })),
          },
        },
        legendPlacer: p.legend,
        freeText: { items: p.extra },
      },
    },
    plugins: [legendPlacer, freeText],
  };
}

function Panel({ left, top, width, height, make }: { left: number; top: number; width: number; height: number; make: () => any }) {
  const ref = useRef<HTMLCanvasElement | null>(null);
  useEffect(() => {
    if (!ref.current) return;
    const chart = new Chart(ref.current, make());
    return () => chart.destroy();
  }, []);
  return <canvas ref={ref} width={width} height={height} style={{ position: "absolute", left, top, width, height, display: "block" }} />;
}

const panelBConfig = () =>
  barConfig({
    h: 895, left: 73, bottom: 815, top: 79, right: 25,
    cats: macrophageTypes, saline: salineByType, hmgb1: hmgb1ByType,
    xMin: 0.4, xMax: 4.596, yMax: 0.3, yTicks: fractionTicksB, digits: 1,
    tickSizeX: 18.5, tickSizeY: 18.5, xPad: 4, yPad: 3,
    legend: { x: 525, y: 355, w: 170 },
    titleBottom: 1.5,
    titleSize: 41,
    extra: [
      { text: "B", x: 12, y: 46, font: `44px ${FONT}` },
      { text: Y_TITLE, x: 30, y: 422, rotate: -Math.PI / 2, align: "center", span: 474, font: `bold 30px ${FONT}` },
    ],
  });

const panelCConfig = () =>
  barConfig({
    h: 895, left: 93.4, bottom: 825.3, top: 75.3, right: 1,
    cats: mfClusters, saline: salineByCluster, hmgb1: hmgb1ByCluster,
    xMin: 0.403, xMax: 9.57, yMax: 0.15, yTicks: fractionTicksC, digits: 2,
    tickSizeX: 18, tickSizeY: 20.5, xPad: 5, yPad: 1,
    legend: { x: 553, y: 355, w: 160 },
    titleBottom: -3,
    titleSize: 42.5,
    extra: [
      { text: "C", x: 6, y: 53, font: `44px ${FONT}` },
      { text: "CD206 + SAM", x: 379.6, y: 116, align: "center", font: `bold 39px ${FONT}` },
      { text: Y_TITLE, x: 41, y: 448, rotate: -Math.PI / 2, align: "center", span: 496, font: `bold 30px ${FONT}` },
    ],
  });

export default function App() {
  return (
    <div style={{ position: "absolute", left: 0, top: 0, width: 1418, height: 1935, background: "#fff", overflow: "hidden" }}>
      <Panel left={0} top={0} width={1418} height={1010} make={umapConfig} />
      <Panel left={0} top={1040} width={700} height={895} make={panelBConfig} />
      <Panel left={700} top={1040} width={718} height={895} make={panelCConfig} />
    </div>
  );
}
